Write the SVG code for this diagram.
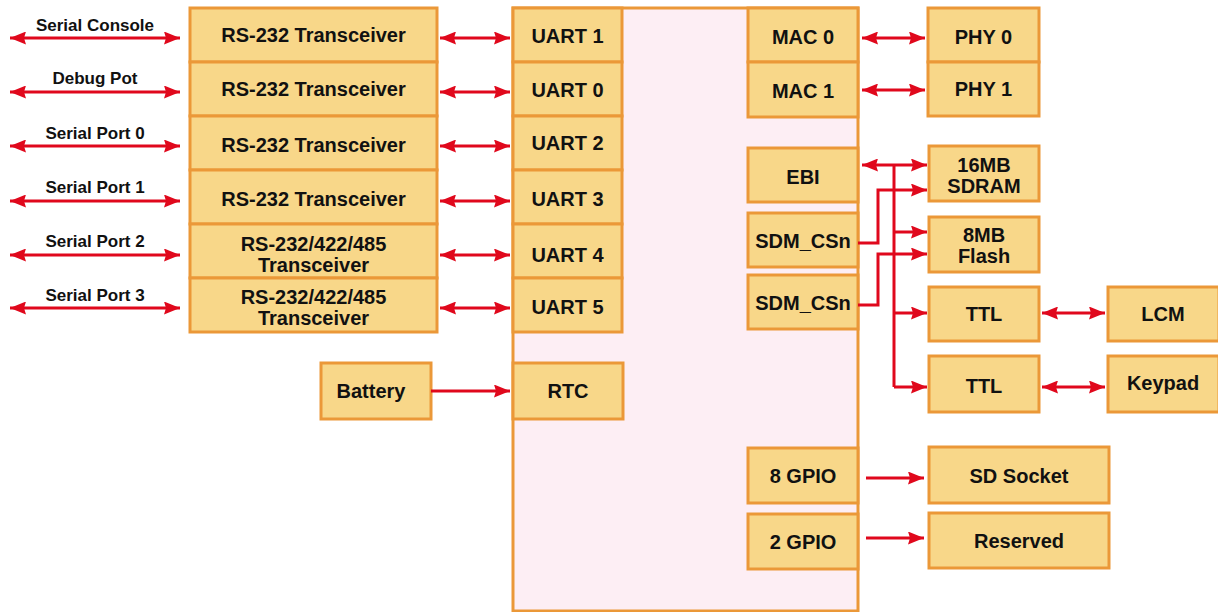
<svg xmlns="http://www.w3.org/2000/svg" width="1218" height="612" viewBox="0 0 1218 612">
<defs>
<style>
.box{fill:#f8d789;stroke:#eb9838;stroke-width:3}
.chip{fill:#fdeef4;stroke:#eb9838;stroke-width:3}
.t{font-family:"Liberation Sans",Arial,sans-serif;font-weight:bold;font-size:20px;fill:#111;text-anchor:middle}
.lb{font-family:"Liberation Sans",Arial,sans-serif;font-weight:bold;font-size:17px;fill:#111;text-anchor:middle}
.w{fill:none;stroke:#e0081c;stroke-width:3}
.a1{marker-end:url(#ah)}
.a2{marker-start:url(#ah);marker-end:url(#ah)}
</style>
<marker id="ah" markerUnits="userSpaceOnUse" markerWidth="17" markerHeight="13" refX="16" refY="6.5" orient="auto-start-reverse">
<path d="M0,0 L16,6.5 L0,13 L2,6.5 z" fill="#e0081c"/>
</marker>
</defs>
<rect width="1218" height="612" fill="#fff"/>

<g id="chip"><rect class="chip" x="513" y="8" width="345" height="603"/></g>

<g id="xcvr0"><rect class="box" x="190" y="8" width="247" height="54"/><text class="t" x="313.5" y="42">RS-232 Transceiver</text></g>
<g id="xcvr1"><rect class="box" x="190" y="62" width="247" height="54"/><text class="t" x="313.5" y="96">RS-232 Transceiver</text></g>
<g id="xcvr2"><rect class="box" x="190" y="116" width="247" height="54"/><text class="t" x="313.5" y="152">RS-232 Transceiver</text></g>
<g id="xcvr3"><rect class="box" x="190" y="170" width="247" height="54"/><text class="t" x="313.5" y="206">RS-232 Transceiver</text></g>
<g id="xcvr4"><rect class="box" x="190" y="224" width="247" height="54"/><text class="t" x="313.5" y="251">RS-232/422/485</text><text class="t" x="313.5" y="272">Transceiver</text></g>
<g id="xcvr5"><rect class="box" x="190" y="278" width="247" height="54"/><text class="t" x="313.5" y="304">RS-232/422/485</text><text class="t" x="313.5" y="325">Transceiver</text></g>

<g id="uart1"><rect class="box" x="513" y="8" width="109" height="54"/><text class="t" x="567.5" y="43">UART 1</text></g>
<g id="uart0"><rect class="box" x="513" y="62" width="109" height="54"/><text class="t" x="567.5" y="97">UART 0</text></g>
<g id="uart2"><rect class="box" x="513" y="116" width="109" height="54"/><text class="t" x="567.5" y="150">UART 2</text></g>
<g id="uart3"><rect class="box" x="513" y="170" width="109" height="54"/><text class="t" x="567.5" y="206">UART 3</text></g>
<g id="uart4"><rect class="box" x="513" y="224" width="109" height="54"/><text class="t" x="567.5" y="262">UART 4</text></g>
<g id="uart5"><rect class="box" x="513" y="278" width="109" height="54"/><text class="t" x="567.5" y="314">UART 5</text></g>

<g id="rtc"><rect class="box" x="513" y="363" width="110" height="56"/><text class="t" x="568" y="398">RTC</text></g>
<g id="battery"><rect class="box" x="321" y="363" width="110" height="56"/><text class="t" x="371" y="398">Battery</text></g>

<g id="mac0"><rect class="box" x="748" y="8" width="110" height="54"/><text class="t" x="803" y="44">MAC 0</text></g>
<g id="mac1"><rect class="box" x="748" y="62" width="110" height="55"/><text class="t" x="803" y="98">MAC 1</text></g>
<g id="phy0"><rect class="box" x="928" y="8" width="111" height="54"/><text class="t" x="983.5" y="44">PHY 0</text></g>
<g id="phy1"><rect class="box" x="928" y="62" width="111" height="54"/><text class="t" x="983.5" y="96">PHY 1</text></g>

<g id="ebi"><rect class="box" x="748" y="148" width="110" height="54"/><text class="t" x="803" y="184">EBI</text></g>
<g id="sdmcs0"><rect class="box" x="748" y="213" width="110" height="54"/><text class="t" x="803" y="248">SDM_CSn</text></g>
<g id="sdmcs1"><rect class="box" x="748" y="275" width="110" height="54"/><text class="t" x="803" y="310">SDM_CSn</text></g>

<g id="sdram"><rect class="box" x="929" y="146" width="110" height="55"/><text class="t" x="984" y="172">16MB</text><text class="t" x="984" y="193">SDRAM</text></g>
<g id="flash"><rect class="box" x="929" y="217" width="110" height="55"/><text class="t" x="984" y="242">8MB</text><text class="t" x="984" y="263">Flash</text></g>
<g id="ttl0"><rect class="box" x="929" y="287" width="110" height="54"/><text class="t" x="984" y="321">TTL</text></g>
<g id="ttl1"><rect class="box" x="929" y="356" width="110" height="56"/><text class="t" x="984" y="393">TTL</text></g>
<g id="lcm"><rect class="box" x="1108" y="287" width="111" height="54"/><text class="t" x="1163" y="321">LCM</text></g>
<g id="keypad"><rect class="box" x="1108" y="356" width="111" height="56"/><text class="t" x="1163" y="390">Keypad</text></g>

<g id="gpio8"><rect class="box" x="748" y="448" width="110" height="55"/><text class="t" x="803" y="483">8 GPIO</text></g>
<g id="gpio2"><rect class="box" x="748" y="514" width="110" height="55"/><text class="t" x="803" y="549">2 GPIO</text></g>
<g id="sdsocket"><rect class="box" x="929" y="447" width="180" height="56"/><text class="t" x="1019" y="483">SD Socket</text></g>
<g id="reserved"><rect class="box" x="929" y="513" width="180" height="55"/><text class="t" x="1019" y="548">Reserved</text></g>

<g id="labels">
<text class="lb" x="95" y="31">Serial Console</text>
<text class="lb" x="95" y="84">Debug Pot</text>
<text class="lb" x="95" y="139">Serial Port 0</text>
<text class="lb" x="95" y="193">Serial Port 1</text>
<text class="lb" x="95" y="247">Serial Port 2</text>
<text class="lb" x="95" y="301">Serial Port 3</text>
</g>

<g id="connectors">
<line class="w a2" x1="10" y1="38" x2="180" y2="38"/>
<line class="w a2" x1="10" y1="92" x2="180" y2="92"/>
<line class="w a2" x1="10" y1="146" x2="180" y2="146"/>
<line class="w a2" x1="10" y1="201" x2="180" y2="201"/>
<line class="w a2" x1="10" y1="255" x2="180" y2="255"/>
<line class="w a2" x1="10" y1="308" x2="180" y2="308"/>
<line class="w a2" x1="440" y1="38" x2="510" y2="38"/>
<line class="w a2" x1="440" y1="92" x2="510" y2="92"/>
<line class="w a2" x1="440" y1="146" x2="510" y2="146"/>
<line class="w a2" x1="440" y1="201" x2="510" y2="201"/>
<line class="w a2" x1="440" y1="255" x2="510" y2="255"/>
<line class="w a2" x1="440" y1="308" x2="510" y2="308"/>
<line class="w a1" x1="431" y1="391" x2="510" y2="391"/>
<line class="w a2" x1="862" y1="38" x2="925" y2="38"/>
<line class="w a2" x1="862" y1="90" x2="925" y2="90"/>
<line class="w a2" x1="862" y1="165" x2="927" y2="165"/>
<polyline class="w" points="894,165 894,387"/>
<line class="w a1" x1="894" y1="232" x2="927" y2="232"/>
<line class="w a1" x1="894" y1="313" x2="927" y2="313"/>
<line class="w a1" x1="894" y1="387" x2="927" y2="387"/>
<polyline class="w a1" points="858,243 878,243 878,190 927,190"/>
<polyline class="w a1" points="858,305 878,305 878,254 927,254"/>
<line class="w a2" x1="1042" y1="313" x2="1105" y2="313"/>
<line class="w a2" x1="1042" y1="387" x2="1105" y2="387"/>
<line class="w a1" x1="866" y1="478" x2="924" y2="478"/>
<line class="w a1" x1="866" y1="538" x2="924" y2="538"/>
</g>
</svg>
